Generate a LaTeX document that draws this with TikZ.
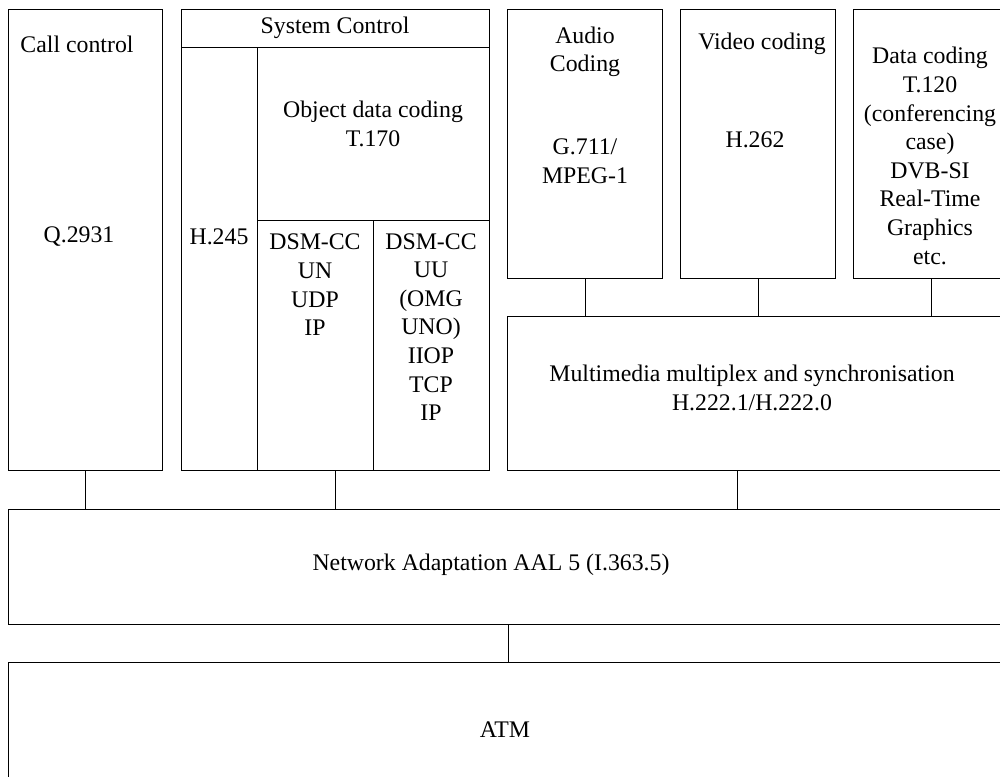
\documentclass[tikz,border=0pt]{standalone}
\usepackage{fontspec}
\setmainfont{Liberation Serif}
\begin{document}
\begin{tikzpicture}[x=1pt,y=-1pt,
  box/.style={draw, line width=1.1pt, inner sep=0pt, anchor=north west},
  txt/.style={font=\fontsize{23.8}{28.6}\selectfont, align=center, inner sep=0pt},
  link/.style={line width=1.1pt}]
\clip (0,0) rectangle (1000,776);

% protocol stack blocks
\node[box, minimum width=154pt, minimum height=461pt] (cc) at (8,9) {};
\node[box, minimum width=308pt, minimum height=461pt] (sc) at (181,9) {};
\node[box, minimum width=308pt, minimum height=38pt] (schead) at (181,9) {};
\node[box, minimum width=76pt, minimum height=423pt] (h245) at (181,47) {};
\node[box, minimum width=232pt, minimum height=173pt] (obj) at (257,47) {};
\node[box, minimum width=116pt, minimum height=250pt] (dsmun) at (257,220) {};
\node[box, minimum width=116pt, minimum height=250pt] (dsmuu) at (373,220) {};
\node[box, minimum width=155pt, minimum height=269pt] (audio) at (507,9) {};
\node[box, minimum width=155pt, minimum height=269pt] (video) at (680,9) {};
\node[box, minimum width=155pt, minimum height=269pt] (data) at (853,9) {};
\node[box, minimum width=501pt, minimum height=154pt] (mux) at (507,316) {};
\node[box, minimum width=1000pt, minimum height=115pt] (na) at (8,509) {};
\node[box, minimum width=1000pt, minimum height=130pt] (atm) at (8,662) {};

% labels
\node[txt] (cct) at (77,44) {Call control};
\node[txt] (q2931) at (79,237) {Q.2931};
\node[txt] (sct) at (335,28) {System Control};
\node[txt] (h245t) at (219,237) {H.245};
\node[txt] (objt) at (373,124) {Object data coding\\T.170};
\node[txt] (dsmunt) at (315,285) {DSM-CC\\UN\\UDP\\IP};
\node[txt] (dsmuut) at (431,327) {DSM-CC\\UU\\(OMG\\UNO)\\IIOP\\TCP\\IP};
\node[txt] (audt) at (585,52) {Audio\\Coding};
\node[txt] (audstd) at (585,161) {G.711/\\MPEG-1};
\node[txt] (vidt) at (762,44) {Video coding};
\node[txt] (vidstd) at (755,140) {H.262};
\node[txt] (datt) at (930,156) {Data coding\\T.120\\(conferencing\\case)\\DVB-SI\\Real-Time\\Graphics\\etc.};
\node[txt] (muxt) at (752,388) {Multimedia multiplex and synchronisation\\H.222.1/H.222.0};
\node[txt] (nat) at (491,565) {Network Adaptation AAL 5 (I.363.5)};
\node[txt] (atmt) at (505,730) {ATM};

% connectors between layers
\draw[link] (audio.south) -- (audio.south |- mux.north);
\draw[link] (video.south) -- (video.south |- mux.north);
\draw[link] (data.south) -- (data.south |- mux.north);
\draw[link] (cc.south) -- (cc.south |- na.north);
\draw[link] (sc.south) -- (sc.south |- na.north);
\coordinate (muxout) at (737.5,470);
\draw[link] (muxout) -- (muxout |- na.north);
\draw[link] (na.south) -- (atm.north);
\end{tikzpicture}
\end{document}
